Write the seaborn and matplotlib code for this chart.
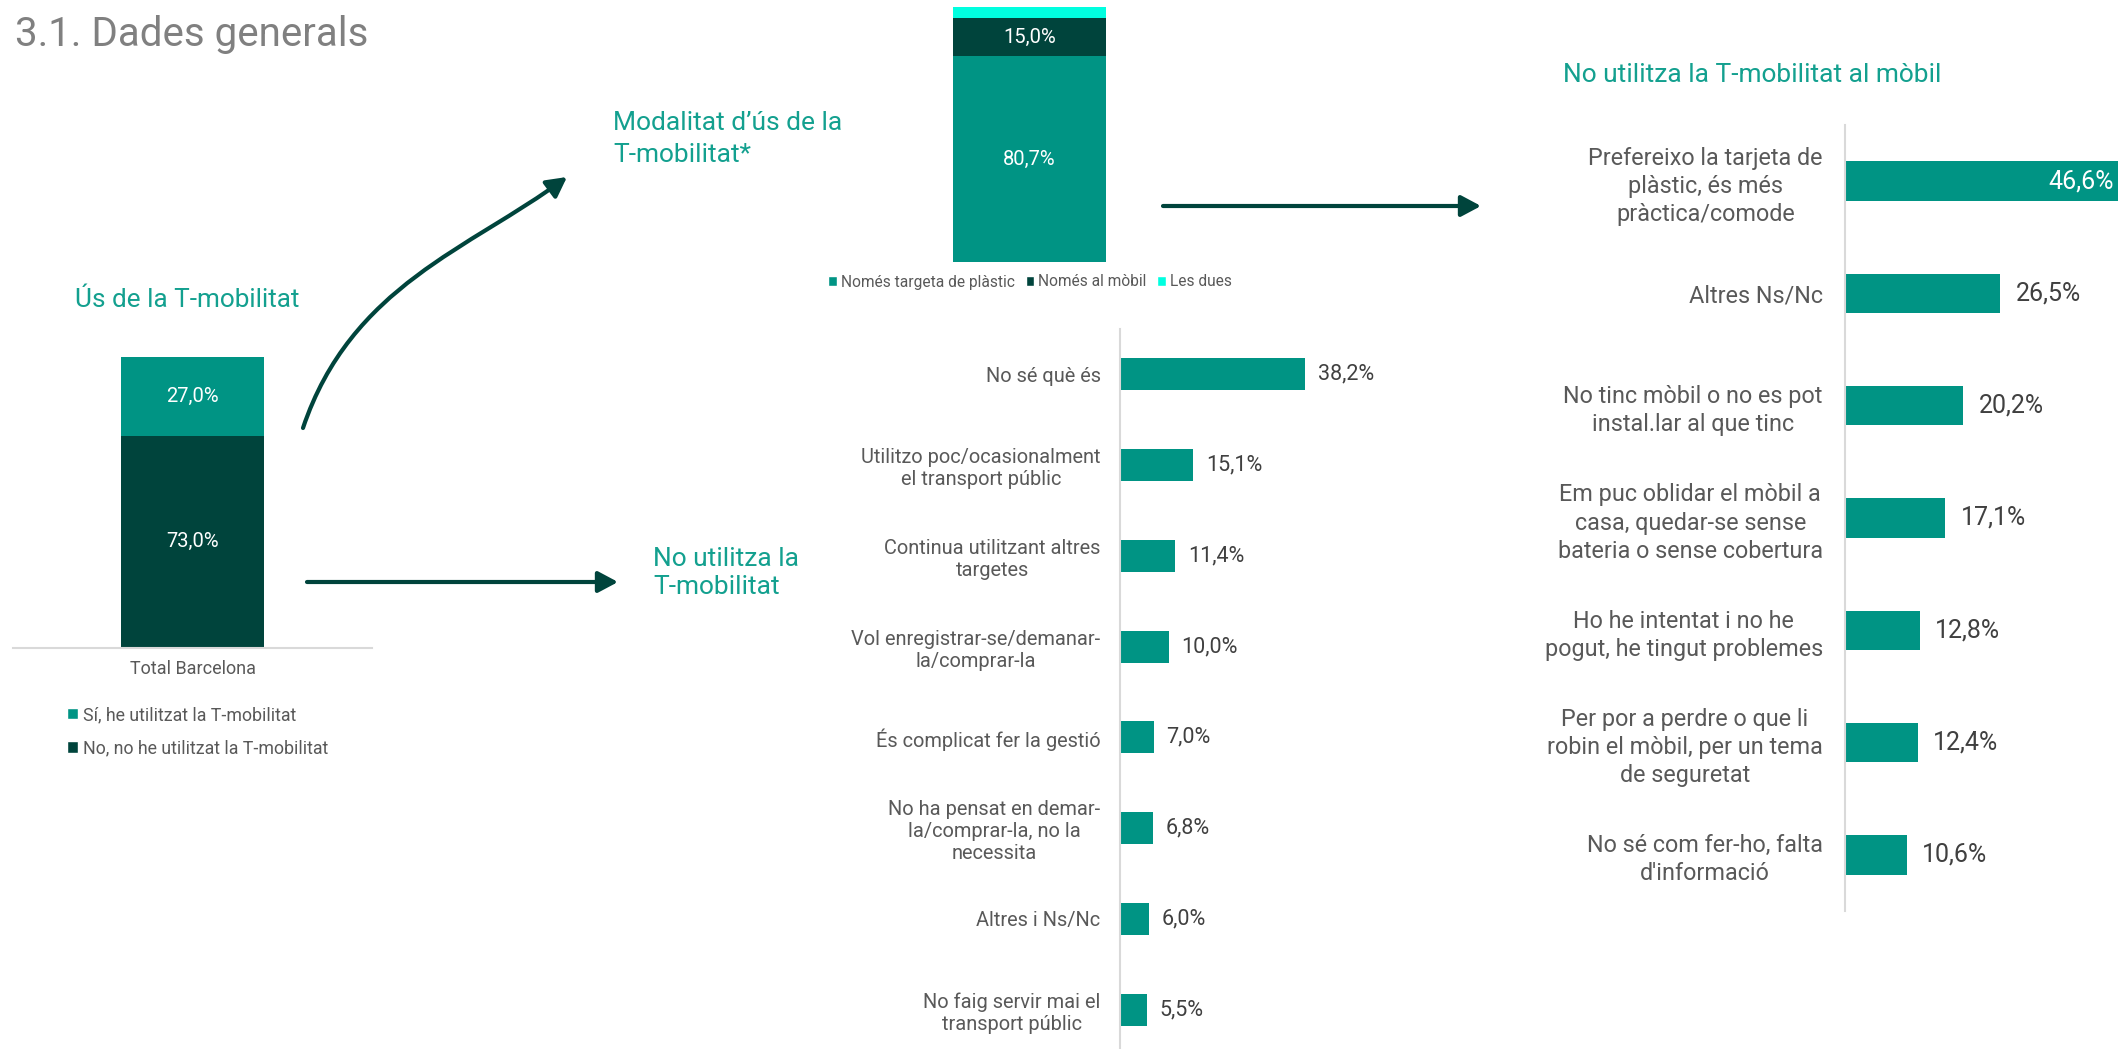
import numpy as np
import pandas as pd
import seaborn as sns
import matplotlib.pyplot as plt
from matplotlib.patches import Patch, FancyArrowPatch
from matplotlib.path import Path

# colours
TEAL = '#009484'
DARK = '#00443C'
CYAN = '#00FFE0'
TITLE_TEAL = '#13A08F'
GRAY = '#595959'
VAL_GRAY = '#404040'

# data
us_cat = 'Total Barcelona'
us_labels = ['Sí, he utilitzat la T-mobilitat', 'No, no he utilitzat la T-mobilitat']
us_values = [27.0, 73.0]

mod_labels = ['Només targeta de plàstic', 'Només al mòbil', 'Les dues']
mod_values = [80.7, 15.0, 4.3]

no_usa_cats = [
    'No sé què és',
    'Utilitzo poc/ocasionalment\nel transport públic',
    'Continua utilitzant altres\ntargetes',
    'Vol enregistrar-se/demanar-\nla/comprar-la',
    'És complicat fer la gestió',
    'No ha pensat en demar-\nla/comprar-la, no la\nnecessita',
    'Altres i Ns/Nc',
    'No faig servir mai el\ntransport públic',
]
no_usa_vals = [38.2, 15.1, 11.4, 10.0, 7.0, 6.8, 6.0, 5.5]

no_mobil_cats = [
    'Prefereixo la tarjeta de\nplàstic, és més\npràctica/comode',
    'Altres Ns/Nc',
    'No tinc mòbil o no es pot\ninstal.lar al que tinc',
    'Em puc oblidar el mòbil a\ncasa, quedar-se sense\nbateria o sense cobertura',
    'Ho he intentat i no he\npogut, he tingut problemes',
    'Per por a perdre o que li\nrobin el mòbil, per un tema\nde seguretat',
    "No sé com fer-ho, falta\nd'informació",
]
no_mobil_vals = [46.6, 26.5, 20.2, 17.1, 12.8, 12.4, 10.6]


def pct(v):
    return f'{v:.1f}%'.replace('.', ',')


sns.set_style('white')
plt.rcParams['font.family'] = ['Roboto', 'DejaVu Sans']

W, H = 2121, 1049
fig = plt.figure(figsize=(W / 100, H / 100), dpi=100)


def box(x0, y0, x1, y1):
    return [x0 / W, 1 - y1 / H, (x1 - x0) / W, (y1 - y0) / H]


def fpt(x, y):
    return (x / W, 1 - y / H)


# --- left: stacked bar "Ús de la T-mobilitat"
ax1 = fig.add_axes(box(13, 357, 372, 648))
stack = list(reversed(us_values))          # bottom -> top: No, Sí
stack_cols = [DARK, TEAL]
cum = np.cumsum(stack)
for i in reversed(range(len(stack))):
    sns.barplot(x=[us_cat], y=[cum[i]], color=stack_cols[i], width=0.396,
                saturation=1, errorbar=None, linewidth=0, ax=ax1)
    ax1.text(0, cum[i] - stack[i] / 2, pct(stack[i]), ha='center', va='center',
             color='white', fontsize=14.5)
ax1.set_xlim(-0.5, 0.5)
ax1.set_ylim(0, 100)
ax1.set_yticks([])
ax1.set_xlabel('')
ax1.set_ylabel('')
for s in ['left', 'right', 'top']:
    ax1.spines[s].set_visible(False)
ax1.spines['bottom'].set_color('#D9D9D9')
ax1.spines['bottom'].set_linewidth(1.5)
ax1.tick_params(axis='x', length=0, pad=9, labelsize=13, labelcolor=GRAY)

fig.legend(handles=[Patch(facecolor=TEAL), Patch(facecolor=DARK)], labels=us_labels,
           loc='upper left', bbox_to_anchor=fpt(58, 697), frameon=False, fontsize=12.8,
           handlelength=0.62, handleheight=0.62, handletextpad=0.3,
           labelspacing=0.85, borderpad=0, labelcolor=GRAY)

# --- top middle: stacked bar "Modalitat d'ús"
ax2 = fig.add_axes(box(838, 7, 1221, 262))
mcum = np.cumsum(mod_values)
mod_cols = [TEAL, DARK, CYAN]
for i in reversed(range(len(mod_values))):
    sns.barplot(x=['Total'], y=[mcum[i]], color=mod_cols[i], width=0.4,
                saturation=1, errorbar=None, linewidth=0, ax=ax2)
for i in range(2):
    ax2.text(0, mcum[i] - mod_values[i] / 2, pct(mod_values[i]), ha='center',
             va='center', color='white', fontsize=14.5)
ax2.set_xlim(-0.5, 0.5)
ax2.set_ylim(0, 100)
ax2.axis('off')

fig.legend(handles=[Patch(facecolor=c) for c in mod_cols], labels=mod_labels,
           loc='center', bbox_to_anchor=fpt(1030, 282), ncol=3, frameon=False,
           fontsize=11.2, handlelength=0.55, handleheight=0.55, handletextpad=0.25,
           columnspacing=0.7, borderpad=0, labelcolor=GRAY)

# --- middle: "No utilitza la T-mobilitat"
ax3 = fig.add_axes(box(1120, 329, 1450, 1055))
df3 = pd.DataFrame({'cat': no_usa_cats, 'val': no_usa_vals})
sns.barplot(data=df3, x='val', y='cat', orient='h', color=TEAL, width=0.35,
            saturation=1, errorbar=None, linewidth=0, ax=ax3)
ax3.set_xlim(0, 330 / 4.85)
ax3.set_ylim(len(no_usa_cats) - 0.5, -0.5)
for i, v in enumerate(no_usa_vals):
    ax3.annotate(pct(v), (v, i), xytext=(9, 0), textcoords='offset points',
                 ha='left', va='center', fontsize=15.5, color=VAL_GRAY)

# --- right: "No utilitza la T-mobilitat al mòbil"
ax4 = fig.add_axes(box(1845, 125, 2121, 911))
df4 = pd.DataFrame({'cat': no_mobil_cats, 'val': no_mobil_vals})
sns.barplot(data=df4, x='val', y='cat', orient='h', color=TEAL, width=0.35,
            saturation=1, errorbar=None, linewidth=0, ax=ax4)
ax4.set_xlim(0, 276 / 5.86)
ax4.set_ylim(len(no_mobil_cats) - 0.5, -0.5)
for i, v in enumerate(no_mobil_vals):
    if v > 40:
        ax4.annotate(pct(v), (v, i), xytext=(-3, 0), textcoords='offset points',
                     ha='right', va='center', fontsize=18, color='white')
    else:
        ax4.annotate(pct(v), (v, i), xytext=(11, 0), textcoords='offset points',
                     ha='left', va='center', fontsize=18, color=VAL_GRAY)

for ax, fs, pad, ls in [(ax3, 14.4, 14, 1.2), (ax4, 16.8, 16, 1.28)]:
    ax.set_xlabel('')
    ax.set_ylabel('')
    ax.set_xticks([])
    for s in ['right', 'top', 'bottom']:
        ax.spines[s].set_visible(False)
    ax.spines['left'].set_color('#D9D9D9')
    ax.spines['left'].set_linewidth(1.5)
    ax.tick_params(axis='y', length=0, pad=pad, labelsize=fs, labelcolor=GRAY)
    for lab in ax.get_yticklabels():
        lab.set_multialignment('center')
        lab.set_linespacing(ls)

# --- titles
fig.text(*fpt(15, 46), '3.1. Dades generals', fontsize=29, color='#808080',
         va='baseline', ha='left')
fig.text(*fpt(187, 300), 'Ús de la T-mobilitat', fontsize=18.8, color=TITLE_TEAL,
         ha='center', va='center')
fig.text(*fpt(613, 139), 'Modalitat d’ús de la\nT-mobilitat*', fontsize=19,
         color=TITLE_TEAL, ha='left', va='center', linespacing=1.4)
fig.text(*fpt(653, 573), 'No utilitza la\nT-mobilitat', fontsize=19,
         color=TITLE_TEAL, ha='left', va='center', linespacing=1.25)
fig.text(*fpt(1563, 75), 'No utilitza la T-mobilitat al mòbil', fontsize=19,
         color=TITLE_TEAL, ha='left', va='center')

# --- arrows
head = '-|>,head_length=0.6,head_width=0.32'
for a, b in [((307, 582), (618, 582)), ((1163, 206), (1481, 206))]:
    fig.add_artist(FancyArrowPatch(fpt(*a), fpt(*b), transform=fig.transFigure,
                                   arrowstyle=head, mutation_scale=20, lw=3,
                                   color=DARK, shrinkA=0, shrinkB=0))

p0, p3 = np.array([303, 428]), np.array([567, 177])
p1 = p0 + 150 * np.array([0.318, -0.948])
p2 = p3 - 120 * np.array([0.805, -0.594])
verts = [fpt(*p) for p in (p0, p1, p2, p3)]
curve = Path(verts, [Path.MOVETO, Path.CURVE4, Path.CURVE4, Path.CURVE4])
fig.add_artist(FancyArrowPatch(path=curve, transform=fig.transFigure,
                               arrowstyle=head, mutation_scale=20, lw=3, color=DARK))

fig.savefig('out.png', dpi=100)
